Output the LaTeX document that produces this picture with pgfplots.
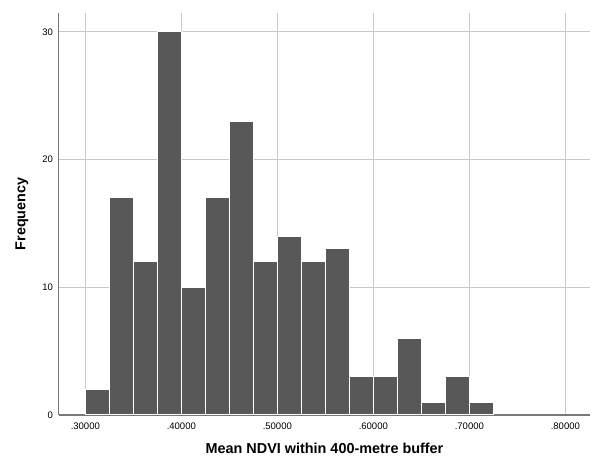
\documentclass[border=0pt]{standalone}
\usepackage{pgfplots}
\pgfplotsset{compat=1.18}
\usepackage{fontspec}
\setmainfont{Liberation Sans}
\definecolor{barfill}{RGB}{88,88,88}
\definecolor{gridc}{RGB}{200,200,200}
\definecolor{axc}{RGB}{120,120,120}
\begin{document}
\begin{tikzpicture}
\path[use as bounding box] (-58.7pt,-47pt) rectangle (533.3pt,415pt);
\begin{axis}[
  at={(0pt,0pt)}, anchor=south west,
  scale only axis, width=531.3pt, height=402.3pt,
  xmin=0.2723, xmax=0.8257, ymin=0, ymax=31.5,
  axis x line=bottom, axis y line=left,
  axis line style={-, draw=axc, line width=1.2pt},
  xtick={0.3,0.4,0.5,0.6,0.7,0.8},
  xticklabels={.30000,.40000,.50000,.60000,.70000,.80000},
  ytick={0,10,20,30},
  grid=major, major grid style={draw=gridc, line width=0.9pt},
  tick style={draw=none},
  /pgf/number format/assume math mode=true,
  ticklabel style={font=\fontsize{9.5}{11}\selectfont},
  xticklabel style={yshift=-2pt},
  xlabel={Mean NDVI within 400-metre buffer},
  ylabel={Frequency},
  label style={font=\fontsize{14.4}{16}\selectfont\bfseries},
  xlabel style={at={(axis description cs:0.5003,-0.082)}, anchor=center},
  ylabel style={at={(axis description cs:-0.069,0.5)}, anchor=center},
]
\addplot[ybar interval, fill=barfill, draw=white, line width=1pt] coordinates {
(0.300,2) (0.325,17) (0.350,12) (0.375,30) (0.400,10) (0.425,17)
(0.450,23) (0.475,12) (0.500,14) (0.525,12) (0.550,13) (0.575,3)
(0.600,3) (0.625,6) (0.650,1) (0.675,3) (0.700,1) (0.725,1)
};
\end{axis}
\end{tikzpicture}
\end{document}
